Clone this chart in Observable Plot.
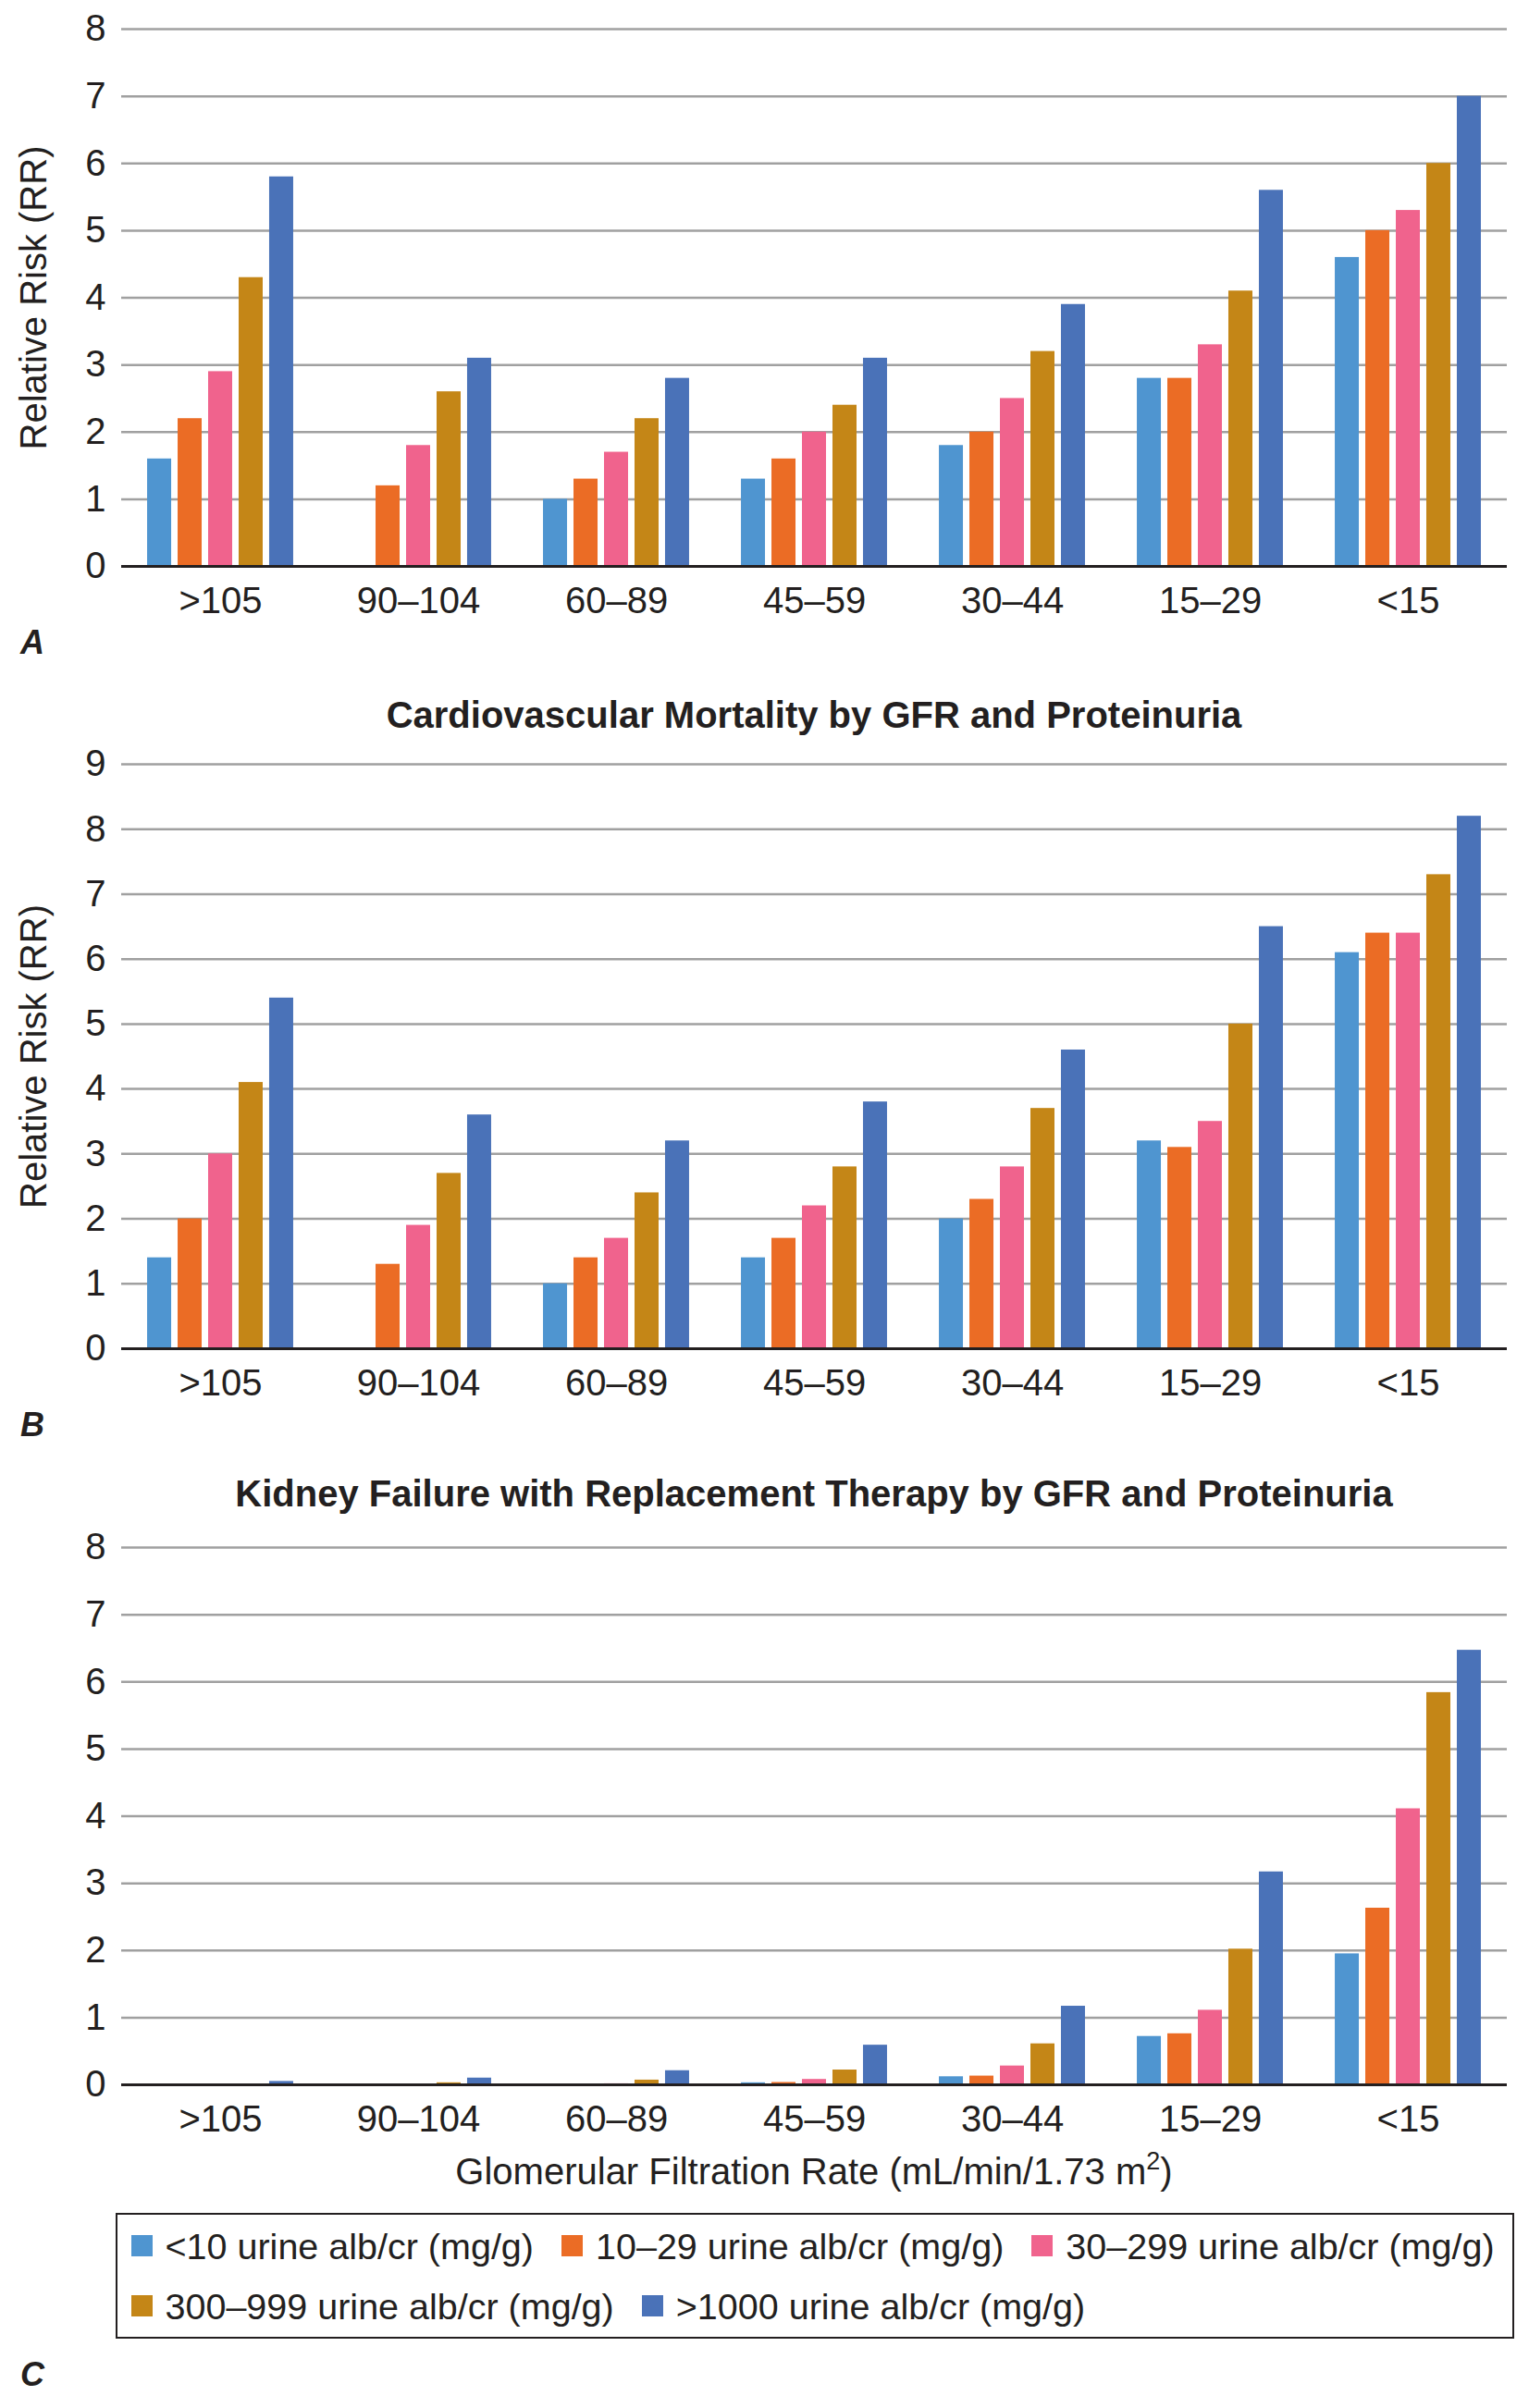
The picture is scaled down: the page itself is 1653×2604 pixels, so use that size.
<!DOCTYPE html>
<html>
<head>
<meta charset="utf-8">
<script src="https://cdn.jsdelivr.net/npm/d3@7"></script>
<script src="https://cdn.jsdelivr.net/npm/@observablehq/plot@0.6"></script>
<style>
  html, body { margin: 0; padding: 0; background: #fff; }
  #page { position: relative; width: 1653px; height: 2604px; overflow: hidden;
          font-family: "Liberation Sans", Arial, Helvetica, sans-serif; color: #231f20; background: #fff; }
  .abs { position: absolute; }
  .title { left: 130px; width: 1500px; text-align: center; white-space: nowrap;
           font-weight: bold; font-size: 40px; line-height: 46px; }
  .xtitle { left: 130px; width: 1500px; text-align: center; white-space: nowrap;
            font-size: 40px; line-height: 46px; }
  .xtitle sup { font-size: 27px; line-height: 0; position: relative; top: -2px; }
  .plabel { left: 22px; font-weight: bold; font-style: italic; font-size: 36px; line-height: 46px; }
  #legendbox { position: absolute; left: 125px; top: 2393px; width: 1512px; height: 136px;
               box-sizing: border-box; border: 2.5px solid #231f20; padding: 10.5px 0 0 14.5px; }
  #legendbox > div { display: flex !important; flex-wrap: wrap !important; column-gap: 30px !important;
                     row-gap: 19px !important; margin: 0 !important; min-height: 0 !important;
                     width: 1500px !important;
                     font-size: 39.5px !important; font-family: "Liberation Sans", Arial, sans-serif !important;
                     color: #231f20 !important; }
  #legendbox span { margin-right: 0 !important; line-height: 46px !important; height: 46px;
                    display: inline-flex !important; align-items: center !important; white-space: nowrap; }
  #legendbox svg { margin-right: 14px !important; width: 23px !important; height: 23px !important; }
</style>
</head>
<body>
<div id="page">
  <div id="chartA" class="abs" style="left:0;top:0;"></div>
  <div id="chartB" class="abs" style="left:0;top:790px;"></div>
  <div id="chartC" class="abs" style="left:0;top:1640px;"></div>
  <div class="abs plabel" style="top:671.5px;">A</div>
  <div class="abs title" style="top:750px;">Cardiovascular Mortality by GFR and Proteinuria</div>
  <div class="abs plabel" style="top:1517.5px;">B</div>
  <div class="abs title" style="top:1592px;">Kidney Failure with Replacement Therapy by GFR and Proteinuria</div>
  <div class="abs xtitle" style="top:2325px;">Glomerular Filtration Rate (mL/min/1.73 m<sup>2</sup>)</div>
  <div id="legendbox"></div>
  <div class="abs plabel" style="top:2544.5px;">C</div>
</div>
<script>
// ---- categories ----
const gfrGroups = [">105", "90–104", "60–89", "45–59", "30–44", "15–29", "<15"];
const albSeries = [
  "<10 urine alb/cr (mg/g)",
  "10–29 urine alb/cr (mg/g)",
  "30–299 urine alb/cr (mg/g)",
  "300–999 urine alb/cr (mg/g)",
  ">1000 urine alb/cr (mg/g)"
];
const albColors = ["#4f95d0", "#eb6c25", "#f0638d", "#c48617", "#4a72b8"];

// ---- Panel A (all-cause mortality, RR) ----
const A_lt10    = [1.6, null, 1.0, 1.3, 1.8, 2.8, 4.6];
const A_10_29   = [2.2, 1.2, 1.3, 1.6, 2.0, 2.8, 5.0];
const A_30_299  = [2.9, 1.8, 1.7, 2.0, 2.5, 3.3, 5.3];
const A_300_999 = [4.3, 2.6, 2.2, 2.4, 3.2, 4.1, 6.0];
const A_gt1000  = [5.8, 3.1, 2.8, 3.1, 3.9, 5.6, 7.0];
const A_ticks   = [0, 1, 2, 3, 4, 5, 6, 7, 8];

// ---- Panel B (cardiovascular mortality, RR) ----
const B_lt10    = [1.4, null, 1.0, 1.4, 2.0, 3.2, 6.1];
const B_10_29   = [2.0, 1.3, 1.4, 1.7, 2.3, 3.1, 6.4];
const B_30_299  = [3.0, 1.9, 1.7, 2.2, 2.8, 3.5, 6.4];
const B_300_999 = [4.1, 2.7, 2.4, 2.8, 3.7, 5.0, 7.3];
const B_gt1000  = [5.4, 3.6, 3.2, 3.8, 4.6, 6.5, 8.2];
const B_ticks   = [0, 1, 2, 3, 4, 5, 6, 7, 8, 9];

// ---- Panel C (kidney failure with replacement therapy, RR) ----
const C_lt10    = [0, 0, 0, 0.03, 0.12, 0.72, 1.95];
const C_10_29   = [0, 0, 0.005, 0.035, 0.13, 0.76, 2.63];
const C_30_299  = [0.003, 0.005, 0.015, 0.08, 0.28, 1.11, 4.11];
const C_300_999 = [0.008, 0.03, 0.07, 0.22, 0.61, 2.02, 5.84];
const C_gt1000  = [0.05, 0.10, 0.21, 0.59, 1.17, 3.17, 6.47];
const C_ticks   = [0, 1, 2, 3, 4, 5, 6, 7, 8];

function toRows(seriesArrays) {
  const rows = [];
  gfrGroups.forEach((g, i) => {
    albSeries.forEach((s, j) => {
      const v = seriesArrays[j][i];
      if (v != null) rows.push({gfr: g, series: s, value: v});
    });
  });
  return rows;
}

const FONT = "'Liberation Sans', Arial, Helvetica, sans-serif";

function panel(rows, ticks, {marginTop, innerHeight, label}) {
  const yMax = ticks[ticks.length - 1];
  return Plot.plot({
    width: 1653,
    height: marginTop + innerHeight + 60,
    marginLeft: 130,
    marginRight: 23,
    marginTop,
    marginBottom: 60,
    style: {fontFamily: FONT, fontSize: "40px", color: "#231f20", background: "none", overflow: "visible"},
    fx: {domain: gfrGroups, padding: 0, label: null},
    x: {domain: albSeries, axis: null, paddingInner: 0.212, paddingOuter: 0.85, round: false},
    y: {domain: [0, yMax], label: null},
    color: {domain: albSeries, range: albColors},
    marks: [
      Plot.ruleY(ticks.filter(t => t > 0), {stroke: "#a0a0a0", strokeWidth: 2.5}),
      Plot.barY(rows, {fx: "gfr", x: "series", y: "value", fill: "series"}),
      Plot.ruleY([0], {stroke: "#231f20", strokeWidth: 3}),
      Plot.axisY({
        ticks, tickSize: 0, tickPadding: 17, fontSize: 40,
        label, labelAnchor: "center", labelOffset: 110, labelArrow: false
      }),
      Plot.axisFx({anchor: "bottom", tickSize: 0, tickPadding: 22, fontSize: 40, label: null})
    ]
  });
}

document.getElementById("chartA").append(
  panel(toRows([A_lt10, A_10_29, A_30_299, A_300_999, A_gt1000]), A_ticks,
        {marginTop: 31, innerHeight: 581, label: "Relative Risk (RR)"}));
document.getElementById("chartB").append(
  panel(toRows([B_lt10, B_10_29, B_30_299, B_300_999, B_gt1000]), B_ticks,
        {marginTop: 36, innerHeight: 632, label: "Relative Risk (RR)"}));
document.getElementById("chartC").append(
  panel(toRows([C_lt10, C_10_29, C_30_299, C_300_999, C_gt1000]), C_ticks,
        {marginTop: 33, innerHeight: 581, label: null}));

document.getElementById("legendbox").append(
  Plot.legend({
    color: {domain: albSeries, range: albColors},
    legend: "swatches",
    swatchSize: 23,
    className: "lg"
  })
);
</script>
</body>
</html>
